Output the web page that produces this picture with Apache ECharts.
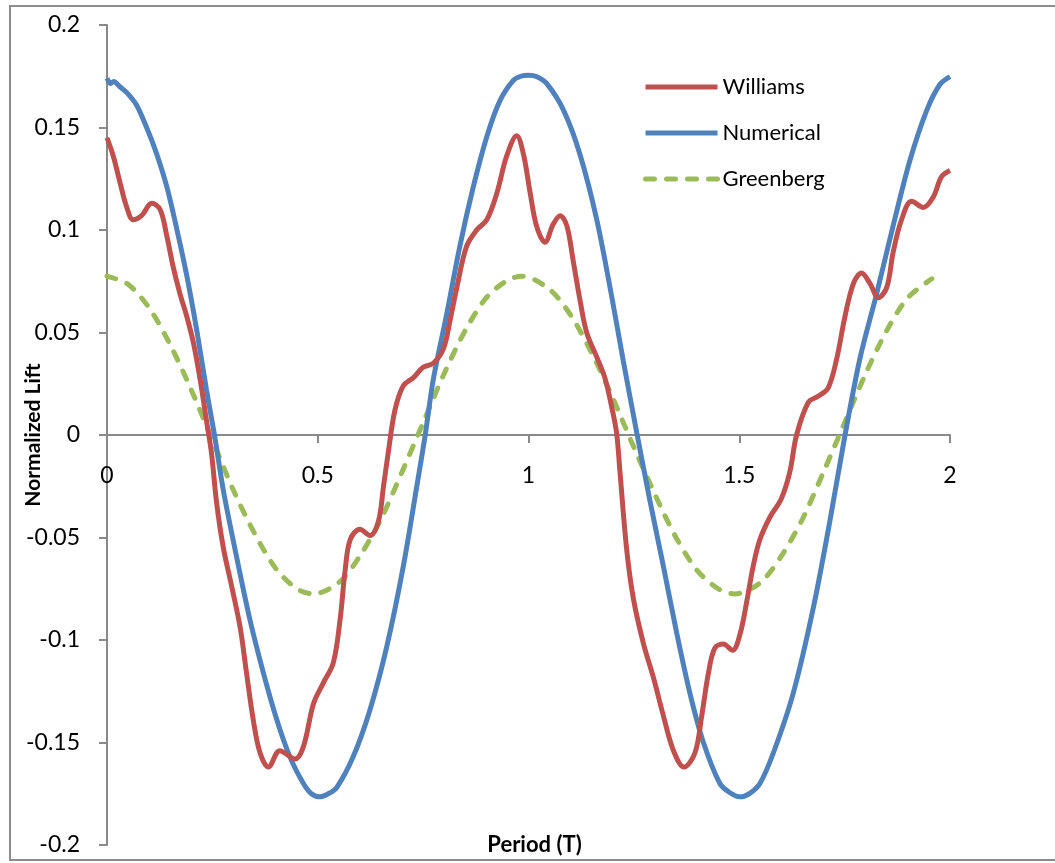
<!DOCTYPE html>
<html>
<head>
<meta charset="utf-8">
<script src="https://cdn.jsdelivr.net/npm/echarts@6/dist/echarts.min.js"></script>
<style>
html,body{margin:0;padding:0;background:#fff;}
#chart{width:1055px;height:863px;}
</style>
</head>
<body>
<div id="chart"></div>
<script>
// Tick values
const xTicks = [0, 0.5, 1, 1.5, 2];
const yTicks = [-0.2, -0.15, -0.1, -0.05, 0, 0.05, 0.1, 0.15, 0.2];
const seriesNames = ['Williams', 'Numerical', 'Greenberg'];

// Williams: [period, normalized lift]
const williams = [
  [0,0.145],[0.015,0.136],[0.031,0.123],[0.047,0.111],[0.062,0.105],[0.082,0.107],[0.106,0.113],
  [0.126,0.110],[0.142,0.097],[0.157,0.082],[0.173,0.069],[0.189,0.058],[0.205,0.045],[0.221,0.027],
  [0.236,0.007],[0.248,-0.009],[0.260,-0.033],[0.276,-0.055],[0.296,-0.074],[0.316,-0.094],
  [0.331,-0.116],[0.347,-0.139],[0.363,-0.155],[0.383,-0.162],[0.410,-0.154],[0.446,-0.158],
  [0.466,-0.152],[0.490,-0.131],[0.513,-0.121],[0.537,-0.111],[0.553,-0.090],[0.565,-0.066],
  [0.577,-0.051],[0.600,-0.046],[0.624,-0.049],[0.644,-0.042],[0.656,-0.025],[0.667,-0.009],
  [0.683,0.012],[0.703,0.024],[0.727,0.028],[0.750,0.033],[0.774,0.035],[0.798,0.042],
  [0.814,0.056],[0.830,0.072],[0.853,0.092],[0.877,0.100],[0.901,0.105],[0.925,0.118],
  [0.948,0.136],[0.972,0.146],[0.988,0.137],[1.004,0.118],[1.019,0.102],[1.039,0.094],
  [1.059,0.103],[1.075,0.107],[1.091,0.102],[1.106,0.085],[1.122,0.066],[1.138,0.050],
  [1.162,0.038],[1.181,0.028],[1.197,0.014],[1.209,0.001],[1.217,-0.018],[1.233,-0.056],
  [1.249,-0.080],[1.273,-0.102],[1.296,-0.118],[1.320,-0.137],[1.344,-0.154],[1.369,-0.162],
  [1.395,-0.155],[1.411,-0.137],[1.427,-0.116],[1.442,-0.104],[1.462,-0.102],[1.484,-0.105],
  [1.502,-0.097],[1.518,-0.081],[1.533,-0.064],[1.549,-0.051],[1.573,-0.040],[1.600,-0.031],
  [1.620,-0.018],[1.636,0.000],[1.664,0.016],[1.688,0.019],[1.711,0.023],[1.731,0.037],
  [1.751,0.058],[1.771,0.074],[1.790,0.079],[1.810,0.074],[1.830,0.067],[1.850,0.072],
  [1.865,0.089],[1.885,0.105],[1.909,0.114],[1.937,0.111],[1.960,0.116],[1.980,0.126],[2.0,0.129]
];

// Numerical
const numerical = [
  [0,0.174],[0.008,0.1715],[0.016,0.1725],[0.030,0.170],[0.047,0.167],[0.070,0.161],[0.094,0.150],
  [0.118,0.137],[0.142,0.121],[0.165,0.101],[0.189,0.078],[0.213,0.051],[0.236,0.022],[0.255,0.000],
  [0.276,-0.027],[0.308,-0.060],[0.339,-0.090],[0.371,-0.116],[0.403,-0.139],[0.434,-0.157],
  [0.466,-0.170],[0.485,-0.175],[0.505,-0.1765],[0.525,-0.175],[0.545,-0.172],[0.584,-0.157],
  [0.624,-0.134],[0.664,-0.103],[0.703,-0.064],[0.735,-0.025],[0.755,0.000],[0.774,0.027],
  [0.806,0.059],[0.837,0.092],[0.869,0.121],[0.901,0.1455],[0.932,0.163],[0.964,0.173],
  [0.982,0.175],[1.0,0.1755],[1.020,0.1748],[1.043,0.1715],[1.083,0.1585],[1.122,0.137],
  [1.162,0.105],[1.197,0.068],[1.225,0.036],[1.257,0.001],[1.288,-0.032],[1.320,-0.064],
  [1.352,-0.097],[1.383,-0.126],[1.415,-0.150],[1.454,-0.170],[1.478,-0.1745],[1.502,-0.1765],
  [1.525,-0.1748],[1.549,-0.170],[1.581,-0.155],[1.628,-0.126],[1.676,-0.084],[1.715,-0.042],
  [1.751,0.000],[1.786,0.037],[1.826,0.069],[1.865,0.102],[1.905,0.134],[1.945,0.1585],
  [1.976,0.171],[2.0,0.1748]
];

// Greenberg
const greenberg = [
  [0,0.0775],[0.05,0.0735],[0.10,0.062],[0.15,0.044],[0.20,0.022],[0.25,-0.0025],[0.30,-0.027],
  [0.35,-0.048],[0.40,-0.065],[0.45,-0.075],[0.49,-0.0775],[0.55,-0.072],[0.60,-0.059],
  [0.65,-0.041],[0.70,-0.018],[0.75,0.006],[0.80,0.030],[0.85,0.051],[0.90,0.067],[0.95,0.0755],
  [0.985,0.0775],[1.05,0.071],[1.10,0.0585],[1.15,0.040],[1.20,0.018],[1.25,-0.006],
  [1.30,-0.029],[1.35,-0.050],[1.40,-0.066],[1.45,-0.075],[1.49,-0.0775],[1.55,-0.072],
  [1.60,-0.059],[1.65,-0.041],[1.70,-0.018],[1.75,0.006],[1.80,0.030],[1.85,0.051],
  [1.90,0.067],[1.957,0.0762]
];

const FONT = 'Lato';
const AXIS_COLOR = '#898989';
const chart = echarts.init(document.getElementById('chart'), null, {renderer: 'canvas'});
chart.setOption({
  animation: false,
  backgroundColor: '#ffffff',
  textStyle: {fontFamily: FONT},
  graphic: [{
    type: 'rect', z: -1, silent: true,
    shape: {x: 10, y: 6, width: 1100, height: 854},
    style: {fill: 'none', stroke: '#8c8c8c', lineWidth: 2}
  }],
  grid: {left: 107, right: 105, top: 25, bottom: 18, containLabel: false, outerBoundsMode: 'none'},
  legend: {
    orient: 'vertical', left: 643, top: 75, padding: 0,
    itemWidth: 72, itemHeight: 4, itemGap: 22,
    data: seriesNames,
    itemStyle: {opacity: 0},
    lineStyle: {width: 5},
    textStyle: {fontSize: 22, color: '#000', fontFamily: FONT, lineHeight: 24, padding: [0,0,0,0]}
  },
  xAxis: {
    type: 'value', min: xTicks[0], max: xTicks[xTicks.length-1], interval: 0.5,
    position: 'bottom', offset: -410,
    name: 'Period (T)', nameLocation: 'middle', nameGap: 399, nameMoveOverlap: false,
    nameTextStyle: {fontSize: 22, fontWeight: 'bold', color: '#000', fontFamily: FONT, padding: [0,0,0,12]},
    axisLine: {onZero: false, lineStyle: {color: AXIS_COLOR, width: 2}},
    axisTick: {show: true, inside: false, length: 8, lineStyle: {color: AXIS_COLOR, width: 2}},
    axisLabel: {fontSize: 23, color: '#000', margin: 29, fontFamily: FONT,
      formatter: v => String(v)},
    splitLine: {show: false}
  },
  yAxis: {
    type: 'value', min: yTicks[0], max: yTicks[yTicks.length-1], interval: 0.05,
    name: 'Normalized Lift', nameLocation: 'middle', nameGap: 63, nameRotate: 90, nameMoveOverlap: false,
    nameTextStyle: {fontSize: 21, fontWeight: 'bold', color: '#000', fontFamily: FONT},
    axisLine: {onZero: false, lineStyle: {color: AXIS_COLOR, width: 2}},
    axisTick: {show: true, inside: false, length: 8, lineStyle: {color: AXIS_COLOR, width: 2}},
    axisLabel: {fontSize: 23, color: '#000', margin: 27, fontFamily: FONT,
      formatter: v => String(parseFloat(v.toFixed(2)))},
    splitLine: {show: false}
  },
  series: [
    {name: seriesNames[0], type: 'line', data: williams, symbol: 'none', smooth: 0.35,
      lineStyle: {color: '#C0504D', width: 5}, itemStyle: {color: '#C0504D'}, z: 3},
    {name: seriesNames[1], type: 'line', data: numerical, symbol: 'none', smooth: 0.3,
      lineStyle: {color: '#4F81BD', width: 5}, itemStyle: {color: '#4F81BD'}, z: 2},
    {name: seriesNames[2], type: 'line', data: greenberg, symbol: 'none', smooth: 0.3,
      lineStyle: {color: '#9BBB59', width: 5, type: [9, 12], cap: 'round'}, itemStyle: {color: '#9BBB59'}, z: 1}
  ]
});
</script>
</body>
</html>
